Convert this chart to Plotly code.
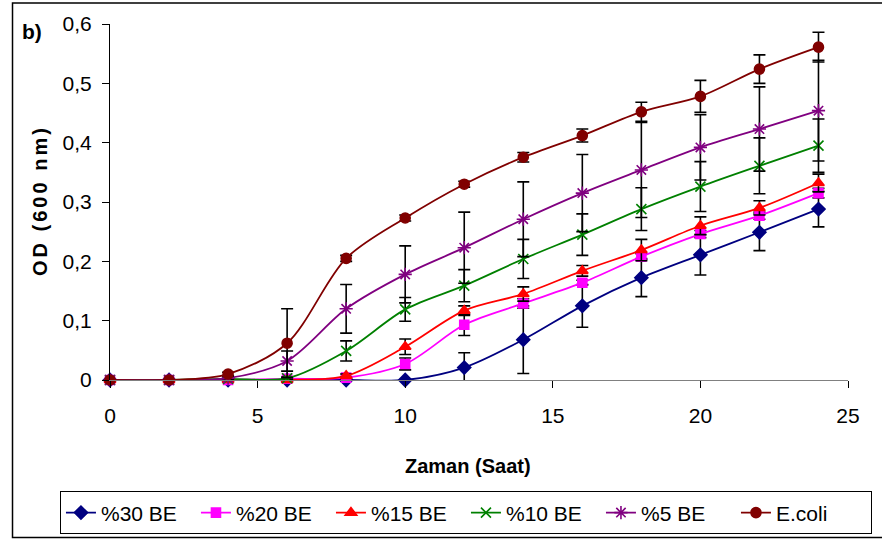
import plotly.graph_objects as go

hours = [0, 2, 4, 6, 8, 10, 12, 14, 16, 18, 20, 22, 24]

series_names = ["%30 BE", "%20 BE", "%15 BE", "%10 BE", "%5 BE", "E.coli"]

od_30 = [0, 0, 0, 0, 0, 0, 0.021, 0.068, 0.125, 0.1725, 0.211, 0.249, 0.288]
od_20 = [0, 0, 0, 0.002, 0.004, 0.027, 0.093, 0.129, 0.164, 0.208, 0.246, 0.277, 0.315]
od_15 = [0, 0, 0, 0, 0.007, 0.056, 0.117, 0.145, 0.184, 0.219, 0.26, 0.29, 0.332]
od_10 = [0, 0, 0.002, 0.003, 0.049, 0.119, 0.159, 0.204, 0.245, 0.288, 0.326, 0.361, 0.395]
od_5 = [0, 0, 0.003, 0.032, 0.12, 0.178, 0.223, 0.271, 0.315, 0.354, 0.392, 0.423, 0.454]
od_ecoli = [0, 0, 0.01, 0.062, 0.205, 0.273, 0.33, 0.3755, 0.412, 0.452, 0.478, 0.524, 0.561]

err_30 = [0, 0, 0, 0, 0, 0, 0.025, 0.057, 0.036, 0.032, 0.034, 0.031, 0.03]
err_20 = [0, 0, 0, 0, 0.002, 0.01, 0.018, 0.008, 0.004, 0.005, 0.006, 0.006, 0.008]
err_15 = [0, 0, 0, 0, 0.003, 0.013, 0.008, 0.012, 0.009, 0.018, 0.015, 0.012, 0.015]
err_10 = [0, 0, 0, 0.002, 0.017, 0.02, 0.027, 0.033, 0.035, 0.036, 0.042, 0.047, 0.045]
err_5 = [0, 0, 0.002, 0.017, 0.041, 0.048, 0.06, 0.063, 0.065, 0.08, 0.055, 0.071, 0.085]
err_ecoli = [0, 0, 0.003, 0.058, 0.005, 0.005, 0.005, 0.008, 0.011, 0.016, 0.027, 0.024, 0.025]

x_ticks = [0, 5, 10, 15, 20, 25]
y_ticks = [0, 0.1, 0.2, 0.3, 0.4, 0.5, 0.6]

values = [od_30, od_20, od_15, od_10, od_5, od_ecoli]
errors = [err_30, err_20, err_15, err_10, err_5, err_ecoli]
colors = ["#000080", "#FF00FF", "#FF0000", "#008000", "#800080", "#800000"]
symbols = ["diamond", "square", "triangle-up", "x-thin", "asterisk", "circle"]
sizes = [10, 9, 10, 10, 11, 10]

FONT = "Liberation Sans, Arial, sans-serif"

fig = go.Figure()
for name, y, e, c, s, sz in zip(series_names, values, errors, colors, symbols, sizes):
    fig.add_trace(go.Scatter(
        x=hours, y=y, name=name, mode="lines+markers",
        line=dict(color=c, width=1.8, shape="spline", smoothing=0.9),
        marker=dict(symbol=s, size=sz, color=c, line=dict(color=c, width=1.6)),
        error_y=dict(type="data", array=e, visible=True, color="black",
                     thickness=1.6, width=6),
        cliponaxis=False,
    ))

fig.update_layout(
    width=882, height=539,
    margin=dict(l=110, r=34, t=24, b=159, autoexpand=False),
    paper_bgcolor="white", plot_bgcolor="white",
    separators=",.",
    font=dict(family=FONT, size=21, color="black"),
    showlegend=True,
    legend=dict(
        orientation="h", x=-0.0678, xanchor="left", y=-0.313, yanchor="top",
        bordercolor="black", borderwidth=1, bgcolor="white",
        font=dict(family=FONT, size=21, color="black"),
        entrywidth=90, itemwidth=30,
    ),
    xaxis=dict(
        range=[0, 25], tickvals=x_ticks, showgrid=False, zeroline=False,
        showline=True, linecolor="#808080", linewidth=1.2,
        ticks="outside", ticklen=7, tickcolor="black", tickwidth=1,
        ticklabelstandoff=10, tickfont=dict(family=FONT, size=21),
    ),
    yaxis=dict(
        range=[0, 0.6], tickvals=y_ticks, showgrid=False, zeroline=False,
        showline=True, linecolor="black", linewidth=1.2,
        ticks="outside", ticklen=7, tickcolor="black", tickwidth=1,
        ticklabelstandoff=6, tickfont=dict(family=FONT, size=21),
    ),
    shapes=[dict(type="rect", xref="paper", yref="paper",
                 x0=-0.1321, x1=1.06, y0=-0.4424, y1=1.059,
                 line=dict(color="black", width=1.5), fillcolor="rgba(0,0,0,0)",
                 layer="below")],
    annotations=[
        dict(text="<b>b)</b>", xref="paper", yref="paper", x=-0.1057, y=0.98,
             xanchor="center", yanchor="middle", showarrow=False,
             font=dict(family=FONT, size=21)),
        dict(text="<b>Zaman (Saat)</b>", xref="paper", yref="paper", x=0.485, y=-0.2416,
             xanchor="center", yanchor="middle", showarrow=False,
             font=dict(family=FONT, size=20)),
        dict(text="<b><span style='letter-spacing:3px'>OD (600 nm)</span></b>",
             xref="paper", yref="paper", x=-0.0949, y=0.5056, textangle=-90,
             xanchor="center", yanchor="middle", showarrow=False,
             font=dict(family=FONT, size=20)),
    ],
)

fig.write_html("out.html")
